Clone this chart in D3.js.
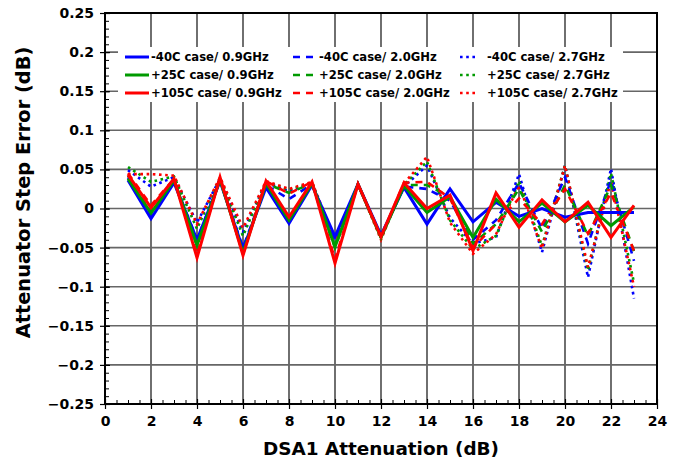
<!DOCTYPE html>
<html>
<head>
<meta charset="utf-8">
<script src="https://cdn.jsdelivr.net/npm/d3@7"></script>
<style>
  body { margin: 0; background: #fff; }
  text { font-family: "DejaVu Sans", Verdana, sans-serif; font-weight: bold; fill: #000; }
</style>
</head>
<body>
<div id="chart"></div>
<script>
// data
var attn = [1, 2, 3, 4, 5, 6, 7, 8, 9, 10, 11, 12, 13, 14, 15, 16, 17, 18, 19, 20, 21, 22, 23];

var m40_09 = [0.036, -0.013, 0.033, -0.040, 0.035, -0.052, 0.027, -0.019, 0.030, -0.036, 0.031, -0.034, 0.027, -0.020, 0.025, -0.017, 0.008, -0.010, 0.000, -0.011, -0.005, -0.005, -0.005];
var p25_09 = [0.038, -0.006, 0.036, -0.047, 0.037, -0.057, 0.032, -0.015, 0.032, -0.049, 0.031, -0.037, 0.029, -0.005, 0.015, -0.037, 0.012, -0.017, 0.007, -0.017, 0.004, -0.022, 0.002];
var p105_09 = [0.043, 0.001, 0.038, -0.063, 0.040, -0.060, 0.035, -0.011, 0.034, -0.070, 0.031, -0.036, 0.033, 0.000, 0.017, -0.054, 0.020, -0.024, 0.011, -0.017, 0.008, -0.037, 0.004];

var m40_20 = [0.040, -0.008, 0.035, -0.040, 0.036, -0.050, 0.030, 0.012, 0.031, -0.040, 0.031, -0.035, 0.028, 0.025, 0.010, -0.040, -0.015, 0.033, -0.026, 0.040, -0.045, 0.036, -0.067];
var p25_20 = [0.042, -0.003, 0.037, -0.048, 0.037, -0.055, 0.032, 0.020, 0.032, -0.050, 0.031, -0.037, 0.030, 0.030, 0.015, -0.045, -0.020, 0.025, -0.030, 0.030, -0.035, 0.030, -0.055];
var p105_20 = [0.045, 0.004, 0.038, -0.058, 0.039, -0.058, 0.035, 0.019, 0.034, -0.065, 0.031, -0.037, 0.033, 0.034, 0.013, -0.050, -0.020, 0.013, -0.020, 0.025, -0.032, 0.020, -0.054];

var m40_27 = [0.049, 0.028, 0.040, -0.018, 0.038, -0.030, 0.033, 0.022, 0.032, -0.045, 0.031, -0.035, 0.028, 0.055, -0.012, -0.045, -0.037, 0.044, -0.056, 0.055, -0.088, 0.051, -0.115];
var p25_27 = [0.053, 0.034, 0.041, -0.026, 0.039, -0.035, 0.034, 0.024, 0.033, -0.047, 0.031, -0.037, 0.030, 0.060, -0.015, -0.052, -0.035, 0.035, -0.048, 0.055, -0.079, 0.045, -0.095];
var p105_27 = [0.044, 0.044, 0.042, -0.020, 0.040, -0.025, 0.035, 0.025, 0.034, -0.040, 0.031, -0.040, 0.032, 0.066, -0.018, -0.058, -0.033, 0.030, -0.051, 0.055, -0.075, 0.035, -0.100];

var xTicks = [0, 2, 4, 6, 8, 10, 12, 14, 16, 18, 20, 22, 24];
var yTicks = [-0.25, -0.2, -0.15, -0.1, -0.05, 0, 0.05, 0.1, 0.15, 0.2, 0.25];

var seriesNames = [
    "-40C case/ 0.9GHz", "+25C case/ 0.9GHz", "+105C case/ 0.9GHz",
    "-40C case/ 2.0GHz", "+25C case/ 2.0GHz", "+105C case/ 2.0GHz",
    "-40C case/ 2.7GHz", "+25C case/ 2.7GHz", "+105C case/ 2.7GHz"
];
var seriesValues = [m40_09, p25_09, p105_09, m40_20, p25_20, p105_20, m40_27, p25_27, p105_27];

var svgWidth = 678;
var svgHeight = 464;
var margin = { top: 13, right: 21, bottom: 60, left: 105 };
var width = svgWidth - margin.left - margin.right;
var height = svgHeight - margin.top - margin.bottom;

var colors = ["#0000ff", "#009a00", "#ff0000"];
var styles = [
    { dash: null, w: 3, cap: "butt", len: 24 },
    { dash: "7,6", w: 2.6, cap: "butt", len: 20 },
    { dash: "2.6,3.6", w: 2.6, cap: "butt", len: 18 }
];

var svg = d3.select("#chart")
    .append("svg")
    .attr("width", svgWidth)
    .attr("height", svgHeight);

var chartGroup = svg.append("g")
    .attr("transform", `translate(${margin.left}, ${margin.top})`);

var x = d3.scaleLinear().domain([0, 24]).range([0, width]);
var y = d3.scaleLinear().domain([-0.25, 0.25]).range([height, 0]);

// grid
chartGroup.append("g")
    .selectAll("line")
    .data(xTicks.slice(1, -1))
    .enter()
    .append("line")
    .attr("x1", d => x(d)).attr("x2", d => x(d))
    .attr("y1", 0).attr("y2", height)
    .attr("stroke", "#333")
    .attr("stroke-width", 1.4);

chartGroup.append("g")
    .selectAll("line")
    .data(yTicks.slice(1, -1))
    .enter()
    .append("line")
    .attr("y1", d => y(d)).attr("y2", d => y(d))
    .attr("x1", 0).attr("x2", width)
    .attr("stroke", "#666")
    .attr("stroke-width", 1.6);

// legend background blocks grid
chartGroup.append("rect")
    .attr("x", 13).attr("y", 34)
    .attr("width", 505).attr("height", 55)
    .attr("fill", "#fff");

// axes with minor ticks
var minorX = d3.range(0, 24.01, 0.5);
var minorY = d3.range(-25, 25.1, 1).map(d => d / 100);

chartGroup.append("g")
    .attr("transform", `translate(0, ${height})`)
    .call(d3.axisBottom(x).tickValues(minorX).tickSize(-4).tickFormat(""))
    .call(g => g.select(".domain").remove())
    .selectAll("line").attr("stroke", "#000");

chartGroup.append("g")
    .call(d3.axisLeft(y).tickValues(minorY).tickSize(-4).tickFormat(""))
    .call(g => g.select(".domain").remove())
    .selectAll("line").attr("stroke", "#000");

var bottomAxis = d3.axisBottom(x).tickValues(xTicks).tickSize(5).tickPadding(7).tickFormat(d3.format("d"));
var leftAxis = d3.axisLeft(y).tickValues(yTicks).tickSize(5).tickPadding(6).tickFormat(d => d === 0 ? "0" : d3.format("")(d));

var xAxisG = chartGroup.append("g")
    .attr("transform", `translate(0, ${height})`)
    .call(bottomAxis);
var yAxisG = chartGroup.append("g")
    .call(leftAxis);

[xAxisG, yAxisG].forEach(function (g) {
    g.select(".domain").remove();
    g.selectAll("line").attr("stroke", "#000").attr("stroke-width", 1.2);
    g.selectAll("text").attr("font-size", "14px").attr("font-family", "DejaVu Sans").attr("font-weight", "bold");
});
xAxisG.selectAll("line").attr("y1", -5);
yAxisG.selectAll("line").attr("x1", 5);

// frame
chartGroup.append("rect")
    .attr("x", 0).attr("y", 0)
    .attr("width", width).attr("height", height)
    .attr("fill", "none")
    .attr("stroke", "#000")
    .attr("stroke-width", 2);

// lines
var line = d3.line()
    .x((d, i) => x(attn[i]))
    .y(d => y(d));

var order = [6, 7, 8, 3, 4, 5, 0, 1, 2];
order.forEach(function (k) {
    var st = styles[Math.floor(k / 3)];
    chartGroup.append("path")
        .datum(seriesValues[k])
        .attr("d", line)
        .attr("fill", "none")
        .attr("stroke", colors[k % 3])
        .attr("stroke-width", st.w)
        .attr("stroke-linecap", st.cap)
        .attr("stroke-linejoin", "miter")
        .attr("stroke-dasharray", st.dash);
});

// legend
var legCols = [20, 188, 355];
var legRows = [44, 62, 80];
seriesNames.forEach(function (name, k) {
    var col = Math.floor(k / 3);
    var row = k % 3;
    var st = styles[col];
    var lg = chartGroup.append("g")
        .attr("transform", `translate(${legCols[col]}, ${legRows[row]})`);
    lg.append("line")
        .attr("x1", 0).attr("x2", st.len)
        .attr("y1", 0).attr("y2", 0)
        .attr("stroke", colors[row])
        .attr("stroke-width", st.w)
        .attr("stroke-linecap", st.cap)
        .attr("stroke-dasharray", st.dash);
    lg.append("text")
        .attr("x", col === 2 ? 27 : 26)
        .attr("y", 0)
        .attr("dy", "0.36em")
        .attr("font-size", "11.6px")
        .text(name);
});

// axis titles
chartGroup.append("text")
    .attr("transform", `translate(${-75}, ${height / 2 - 16}) rotate(-90)`)
    .attr("text-anchor", "middle")
    .attr("font-size", "19.4px")
    .text("Attenuator Step Error (dB)");

chartGroup.append("text")
    .attr("transform", `translate(${width / 2}, ${height + 51})`)
    .attr("text-anchor", "middle")
    .attr("font-size", "18.4px")
    .text("DSA1 Attenuation (dB)");
</script>
</body>
</html>
